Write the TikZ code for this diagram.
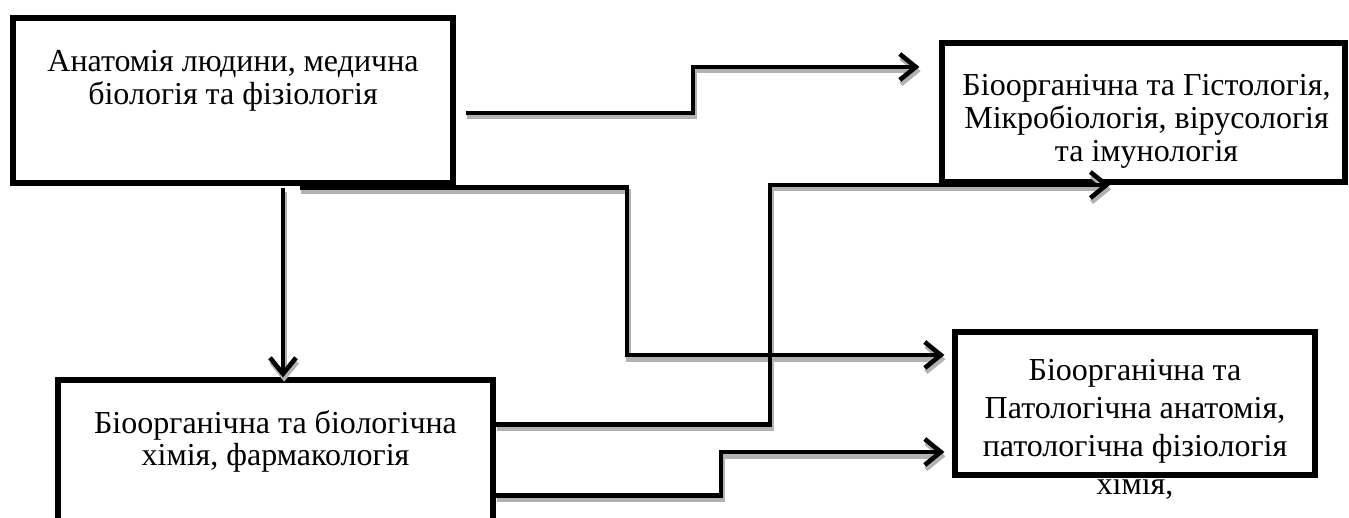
\documentclass[tikz,border=0pt]{standalone}
\usepackage{fontspec}
\setmainfont{Liberation Serif}
\usetikzlibrary{arrows.meta,positioning,calc}

\begin{document}
\begin{tikzpicture}[x=0.5pt,y=-0.5pt,
        box/.style={draw, line width=2.6pt, rectangle, inner sep=0pt},
        txt/.style={align=center, inner sep=0pt, font=\fontsize{16}{16.4}\selectfont},
        wire/.style={line width=2.3pt},
        link/.style={wire, -{Straight Barb[length=8pt,width=13pt]}}]
    \useasboundingbox (0,0) rectangle (1349,518);
    \clip (0,0) rectangle (1349,518);

    % boxes
    \node[box, minimum width=220pt, minimum height=82.5pt] (anat) at (233,100.5) {};
    \node[box, minimum width=201.5pt, minimum height=69.5pt] (histo) at (1143.5,112.5) {};
    \node[box, minimum width=217.5pt, minimum height=100pt] (bioch) at (275.5,480) {};

    % texts
    \node[txt] (anattext) at ($(anat.center)+(0,-19.5)$) {Анатомія людини, медична\\біологія та фізіологія};
    \node[txt] (histotext) at ($(histo.center)+(3,9)$) {Біоорганічна та Гістологія,\\Мікробіологія, вірусологія\\та імунологія};
    \node[txt] (biochtext) at ($(bioch.north)+(0,64)$) {Біоорганічна та біологічна\\хімія, фармакологія};
    \node[txt, font=\fontsize{16}{18.9}\selectfont] (pathotext) at (1135,429.5) {Біоорганічна та\\Патологічна анатомія,\\патологічна фізіологія\\хімія,};
    \node[box, minimum width=180pt, minimum height=71.5pt] (patho) at (1135,403.5) {};

    % connectors
    \coordinate (s1) at ($(anat.east)+(10,12.5)$);
    \coordinate (s2) at ($(anat.south)+(50,2)$);
    \coordinate (s3) at ($(anat.south)+(67,2)$);
    \coordinate (s4) at ($(bioch.north east)+(0,47)$);
    \coordinate (s5) at ($(bioch.north east)+(0,118)$);

    % shadows first
    \begin{scope}[transform canvas={shift={(0.6pt,-2.1pt)}}, draw=gray!60]
        \draw[link] (s1) -| (693,67) -- ($(histo.west)+(-20,-45.5)$);
        \draw[link] (s2) -- (s2 |- bioch.north);
        \draw[link] (s3) -| (627,355) -- ($(patho.west)+(-8,-48.5)$);
        \draw[link] (s4) -| (770,185) -- (1110,185);
        \draw[link] (s5) -| (721,452) -- ($(patho.west)+(-8,48.5)$);
    \end{scope}

    \draw[link] (s1) -| (693,67) -- ($(histo.west)+(-20,-45.5)$);
    \draw[link] (s2) -- (s2 |- bioch.north);
    \draw[link] (s3) -| (627,355) -- ($(patho.west)+(-8,-48.5)$);
    \draw[link] (s4) -| (770,185) -- (1110,185);
    \draw[link] (s5) -| (721,452) -- ($(patho.west)+(-8,48.5)$);
\end{tikzpicture}
\end{document}
